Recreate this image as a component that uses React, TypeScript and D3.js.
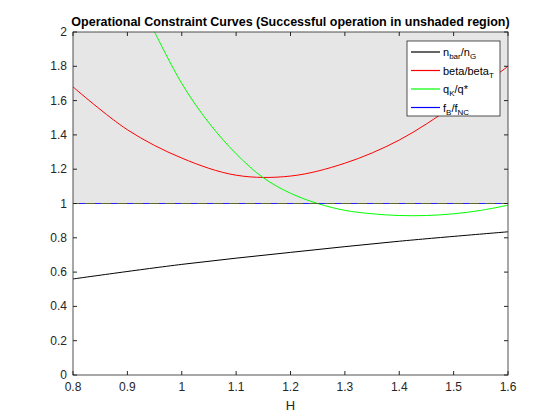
import React from "react";
import * as d3 from "d3";

const blackX = [0.8, 1.0, 1.2, 1.4, 1.6];
const blackY = [0.56, 0.645, 0.715, 0.78, 0.835];
const redX = [0.8, 0.9, 1.0, 1.1, 1.2, 1.3, 1.4, 1.5, 1.6];
const redY = [1.68, 1.43, 1.265, 1.165, 1.16, 1.235, 1.37, 1.57, 1.80];
const greenX = [0.95, 1.0, 1.05, 1.1, 1.15, 1.2, 1.25, 1.3, 1.35, 1.4, 1.45, 1.5, 1.55, 1.6];
const greenY = [2.0, 1.7, 1.47, 1.29, 1.15, 1.06, 1.0, 0.96, 0.94, 0.93, 0.93, 0.94, 0.96, 0.99];
const xTicks = [0.8, 0.9, 1, 1.1, 1.2, 1.3, 1.4, 1.5, 1.6];
const yTicks = [0, 0.2, 0.4, 0.6, 0.8, 1, 1.2, 1.4, 1.6, 1.8, 2];

export default function App() {
  const L = 73, R = 508, T = 32, B = 375;
  const x = d3.scaleLinear().domain([0.8, 1.6]).range([L, R]);
  const y = d3.scaleLinear().domain([0, 2]).range([B, T]);
  const line = (xs: number[], ys: number[]) =>
    d3.line<number>().x((_, i) => x(xs[i])).y((d) => y(d)).curve(d3.curveCatmullRom)(ys) || "";
  const font = "Helvetica, Arial, 'Liberation Sans', sans-serif";
  const leg = [
    { c: "#000", t: ["n", "bar", "/n", "G"] },
    { c: "#f00", t: ["beta/beta", "T", "", ""] },
    { c: "#0f0", t: ["q", "K", "/q*", ""] },
    { c: "#0000ff", t: ["f", "B", "/f", "NC"] },
  ];
  return (
    <svg width={560} height={420} style={{ position: "absolute", left: 0, top: 0, background: "#fff" }} fontFamily={font}>
      <defs><clipPath id="c"><rect x={L} y={T} width={R - L} height={B - T} /></clipPath></defs>
      <rect x={L} y={T} width={R - L} height={y(1) - T} fill="#e6e6e6" />
      <g clipPath="url(#c)" fill="none" strokeWidth={1}>
        <path d={line(blackX, blackY)} stroke="#000" />
        <path d={line(redX, redY)} stroke="#f00" />
        <path d={line(greenX, greenY)} stroke="#0f0" />
      </g>
      <line x1={L} x2={R} y1={y(1)} y2={y(1)} stroke="#5a6a30" strokeWidth={1} />
      <line x1={L} x2={R} y1={y(1)} y2={y(1)} stroke="#2222ff" strokeWidth={1.2} strokeDasharray="6,10" strokeDashoffset={-6} />
      <rect x={L} y={T} width={R - L} height={B - T} fill="none" stroke="#262626" strokeWidth={0.8} />
      {xTicks.map((t) => (
        <g key={t}>
          <line x1={x(t)} x2={x(t)} y1={B} y2={B - 4} stroke="#262626" />
          <line x1={x(t)} x2={x(t)} y1={T} y2={T + 4} stroke="#262626" />
          <text x={x(t)} y={B + 16} fontSize={12} textAnchor="middle" fill="#262626">{t}</text>
        </g>
      ))}
      {yTicks.map((t) => (
        <g key={t}>
          <line x1={L} x2={L + 4} y1={y(t)} y2={y(t)} stroke="#262626" />
          <line x1={R} x2={R - 4} y1={y(t)} y2={y(t)} stroke="#262626" />
          <text x={L - 6} y={y(t) + 4} fontSize={12} textAnchor="end" fill="#262626">{t}</text>
        </g>
      ))}
      <text x={(L + R) / 2} y={410} fontSize={13} textAnchor="middle" fill="#262626">H</text>
      <text x={(L + R) / 2} y={26} fontSize={12.5} fontWeight="bold" textAnchor="middle" fill="#000">
        Operational Constraint Curves (Successful operation in unshaded region)
      </text>
      <rect x={407} y={41} width={93} height={75} fill="#fff" stroke="#262626" strokeWidth={0.8} />
      {leg.map((l, i) => {
        const yy = 52 + i * 18.5;
        return (
          <g key={i}>
            <line x1={411} x2={440} y1={yy} y2={yy} stroke={l.c} strokeWidth={1.2} />
            <text x={443} y={yy + 4} fontSize={11} fill="#000">
              {l.t[0]}
              <tspan fontSize={8} dy={3}>{l.t[1]}</tspan>
              <tspan dy={-3}>{l.t[2]}</tspan>
              {l.t[3] && <tspan fontSize={8} dy={3}>{l.t[3]}</tspan>}
            </text>
          </g>
        );
      })}
    </svg>
  );
}
